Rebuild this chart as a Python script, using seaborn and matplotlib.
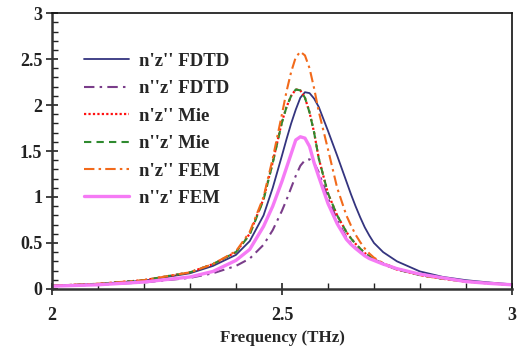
import numpy as np
import pandas as pd
import matplotlib
matplotlib.use('Agg')
import matplotlib.pyplot as plt
from matplotlib.ticker import MultipleLocator
import seaborn as sns

# Данные
freq = [2.0, 2.1, 2.2, 2.3, 2.35, 2.4, 2.43, 2.46, 2.48, 2.5, 2.51, 2.52, 2.53, 2.54, 2.55,
        2.56, 2.57, 2.58, 2.6, 2.62, 2.64, 2.65, 2.66, 2.67, 2.68, 2.69, 2.7, 2.72, 2.75,
        2.8, 2.85, 2.9, 2.95, 3.0]

fdtd_nz2 = [0.035, 0.055, 0.09, 0.17, 0.25, 0.37, 0.52, 0.80, 1.10, 1.45, 1.63, 1.80, 1.95, 2.08, 2.14,
            2.13, 2.07, 1.98, 1.72, 1.45, 1.17, 1.03, 0.90, 0.78, 0.67, 0.58, 0.50, 0.40, 0.30,
            0.19, 0.13, 0.095, 0.07, 0.05]
fdtd_n2z = [0.03, 0.045, 0.07, 0.12, 0.17, 0.25, 0.33, 0.48, 0.64, 0.85, 0.97, 1.10, 1.23, 1.34, 1.40,
            1.41, 1.37, 1.27, 0.99, 0.75, 0.56, 0.50, 0.45, 0.41, 0.38, 0.35, 0.32, 0.28, 0.22,
            0.16, 0.12, 0.085, 0.065, 0.045]
mie_nz2 = [0.035, 0.055, 0.095, 0.18, 0.27, 0.40, 0.60, 0.98, 1.38, 1.82, 1.98, 2.10, 2.17, 2.16, 2.08,
           1.92, 1.70, 1.42, 1.04, 0.80, 0.62, 0.55, 0.49, 0.44, 0.39, 0.355, 0.32, 0.27, 0.21,
           0.15, 0.11, 0.08, 0.06, 0.045]
mie_n2z = [0.035, 0.055, 0.095, 0.18, 0.27, 0.40, 0.59, 0.97, 1.37, 1.81, 1.98, 2.10, 2.17, 2.16, 2.08,
           1.92, 1.70, 1.42, 1.04, 0.80, 0.62, 0.55, 0.49, 0.44, 0.39, 0.355, 0.32, 0.27, 0.21,
           0.15, 0.11, 0.08, 0.06, 0.045]
fem_nz2 = [0.035, 0.055, 0.095, 0.18, 0.27, 0.41, 0.62, 1.00, 1.42, 1.90, 2.15, 2.36, 2.52, 2.58, 2.54,
           2.40, 2.18, 1.93, 1.52, 1.10, 0.80, 0.69, 0.59, 0.51, 0.44, 0.385, 0.34, 0.28, 0.22,
           0.15, 0.11, 0.08, 0.06, 0.045]
fem_n2z = [0.03, 0.045, 0.075, 0.13, 0.19, 0.31, 0.43, 0.68, 0.90, 1.17, 1.32, 1.47, 1.62, 1.655, 1.64,
           1.55, 1.37, 1.22, 0.93, 0.71, 0.54, 0.485, 0.44, 0.40, 0.36, 0.33, 0.31, 0.27, 0.22,
           0.16, 0.12, 0.08, 0.06, 0.045]

labels = ["n'z'' FDTD", "n''z' FDTD", "n'z'' Mie", "n''z' Mie", "n'z'' FEM", "n''z' FEM"]
series = [fdtd_nz2, fdtd_n2z, mie_nz2, mie_n2z, fem_nz2, fem_n2z]
colors = ['#34347f', '#7a3d8a', '#ff1010', '#2f8a2f', '#f26a1b', '#f57af5']
styles = ['-', (0, (5, 2.5, 1.2, 2.5)), (0, (1, 1)), (0, (3.5, 2.5)), (0, (5, 2, 1.2, 2)), '-']
widths = [1.3, 1.5, 1.6, 1.5, 1.5, 2.4]

sns.set_theme(style='ticks')
plt.rcParams['font.family'] = ['Liberation Serif', 'DejaVu Serif']
plt.rcParams['font.weight'] = 'bold'

fig = plt.figure(figsize=(5.19, 3.46), dpi=100)
ax = fig.add_axes([0.100, 0.165, 0.8865, 0.797])

for lab, vals, col, ls, lw in zip(labels, series, colors, styles, widths):
    sns.lineplot(x=freq, y=vals, ax=ax, color=col, linestyle=ls, linewidth=lw, label=lab)

ax.set_xlim(2, 3)
ax.set_ylim(0, 3)
ax.set_xticks([2, 2.5, 3])
ax.set_xticklabels(['2', '2.5', '3'])
ax.xaxis.set_minor_locator(MultipleLocator(0.1))
ax.set_yticks([0, 0.5, 1, 1.5, 2, 2.5, 3])
ax.set_yticklabels(['0', '0.5', '1', '1.5', '2', '2.5', '3'])
ax.yaxis.set_minor_locator(MultipleLocator(0.1))
ax.tick_params(which='major', direction='inout', length=8, width=1.2, colors='#222222',
               labelsize=13, pad=3)
ax.tick_params(which='minor', direction='in', length=4, width=1.0, colors='#222222')
ax.tick_params(axis='x', which='major', pad=9)
for lbl in ax.get_xticklabels() + ax.get_yticklabels():
    lbl.set_fontweight('bold')

for side in ['top', 'right']:
    ax.spines[side].set_visible(True)
    ax.spines[side].set_linewidth(1.2)
    ax.spines[side].set_color('#111111')
for side in ['left', 'bottom']:
    ax.spines[side].set_linewidth(1.8)
    ax.spines[side].set_color('#333333')

ax.set_xlabel('Frequency (THz)', fontsize=12.2, fontweight='bold', labelpad=4)
ax.set_ylabel('')

leg = ax.legend(loc='upper left', bbox_to_anchor=(0.034, 0.918), frameon=False,
                handlelength=2.4, handletextpad=0.5, labelspacing=0.55,
                prop={'family': 'Liberation Serif', 'weight': 'bold', 'size': 13.5})

fig.savefig('out.png', dpi=100)
